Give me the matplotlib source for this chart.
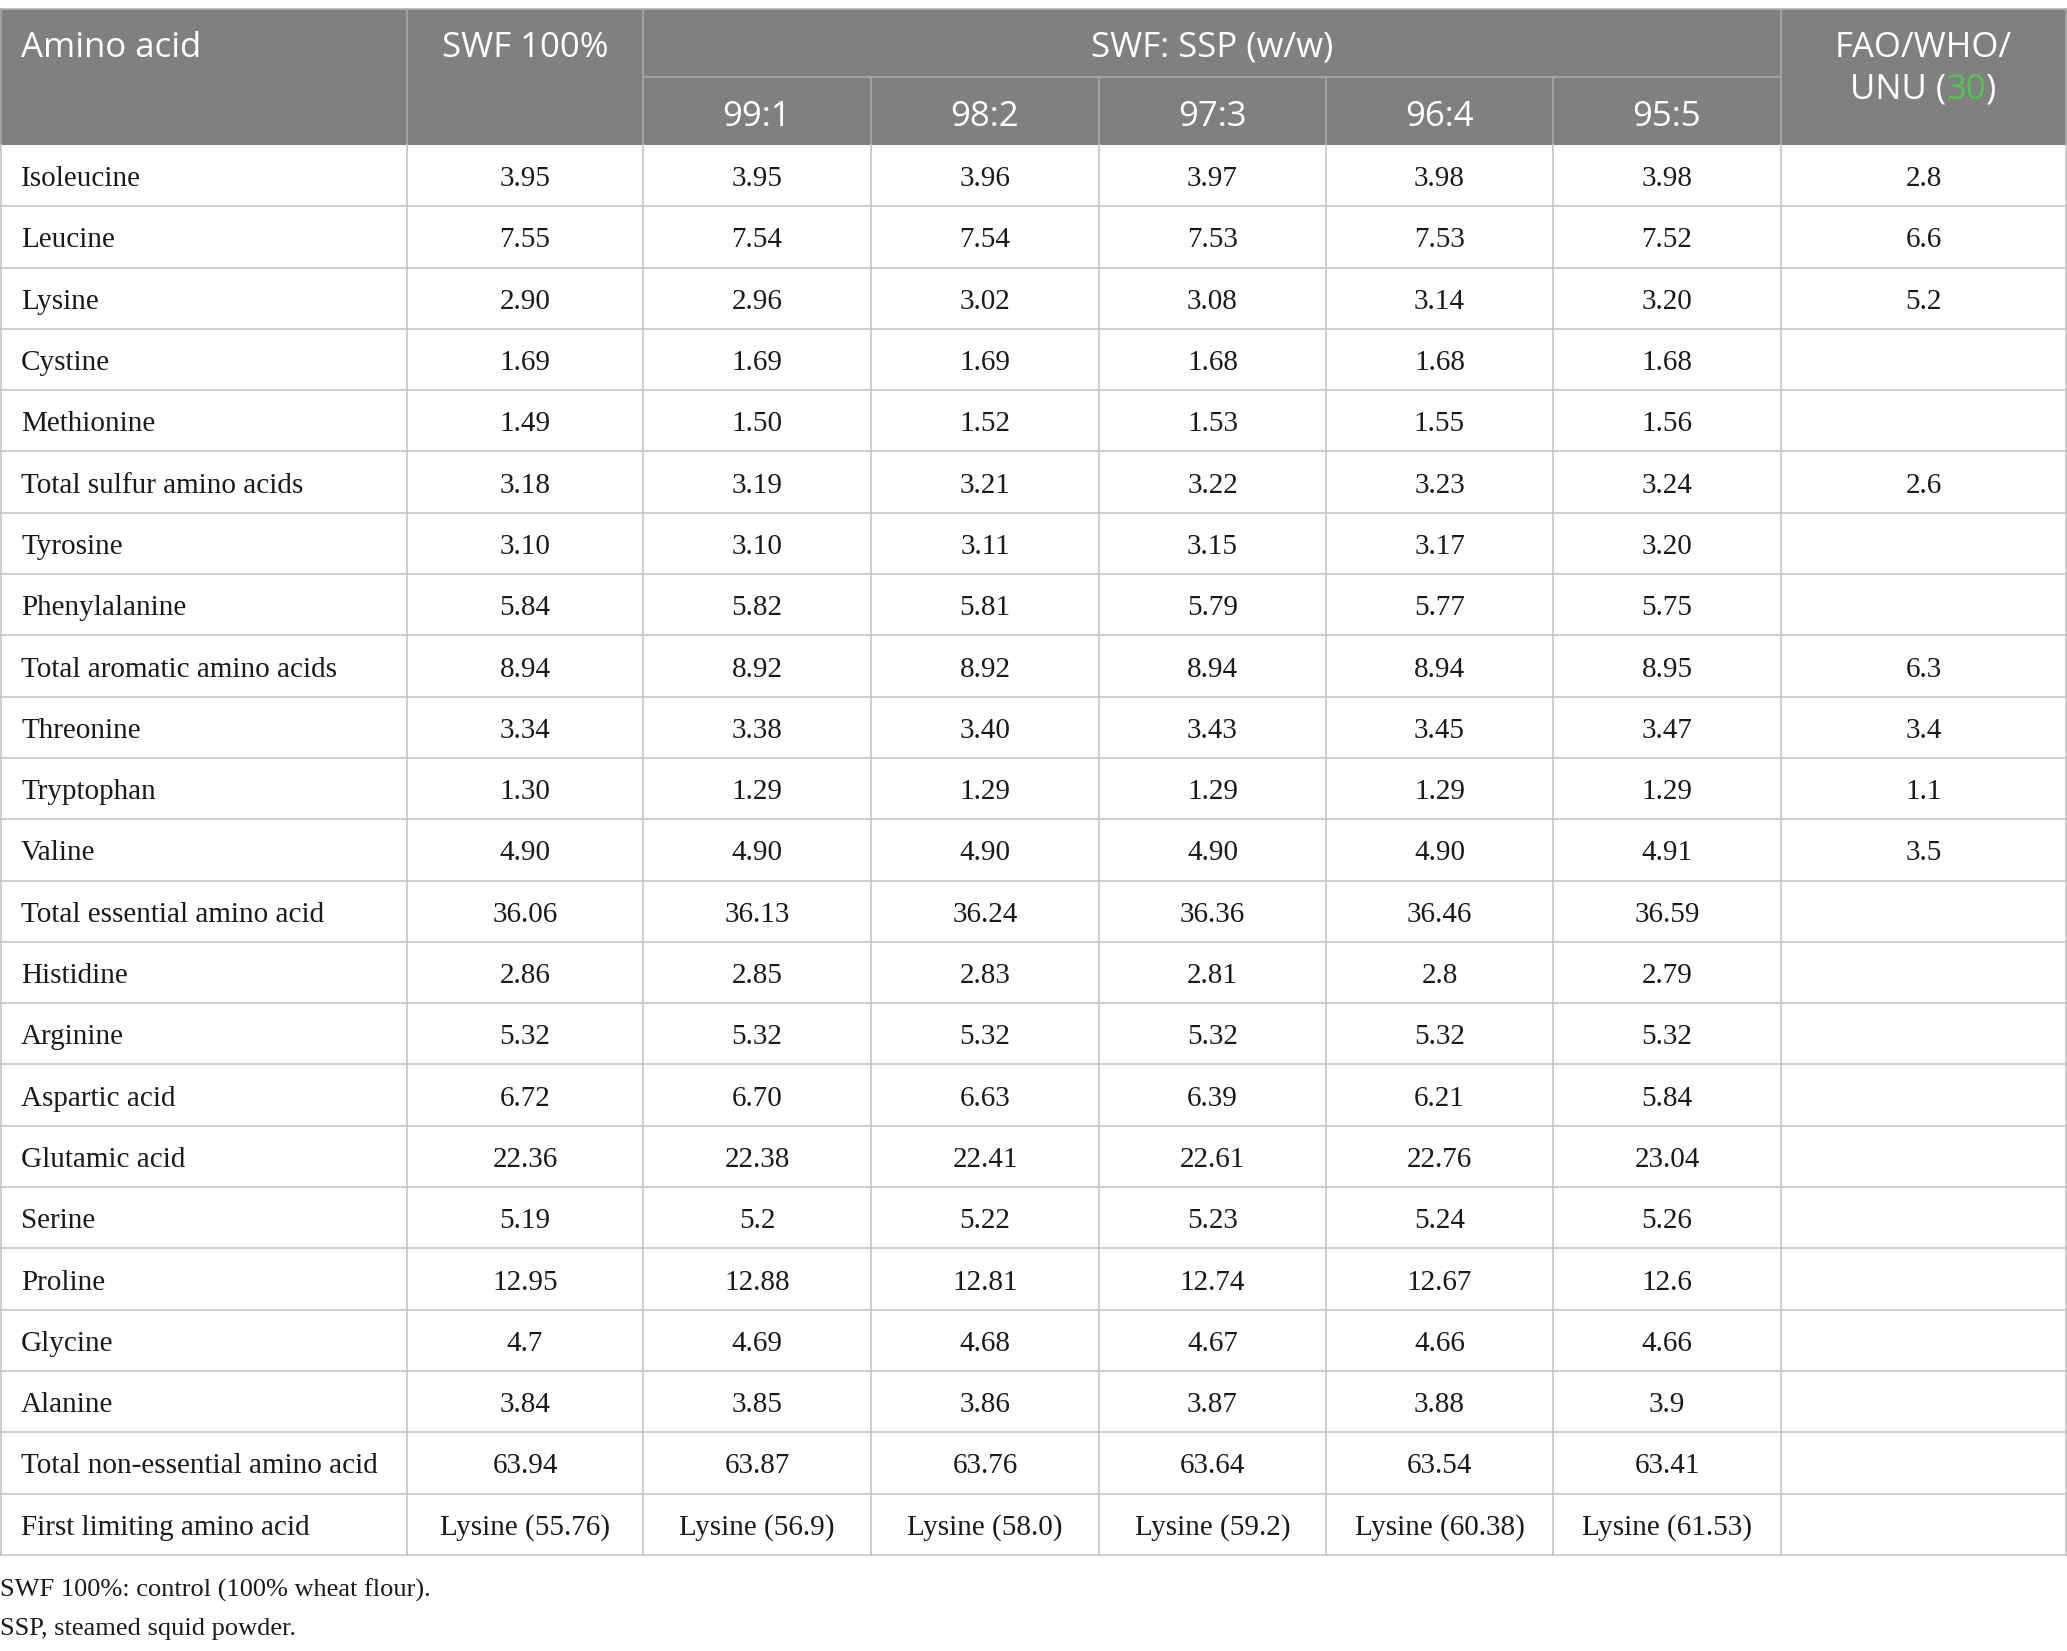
import matplotlib
matplotlib.use("Agg")
import matplotlib.pyplot as plt
from matplotlib.patches import Rectangle

# ---------------- data ----------------
amino_acids = [
    "Isoleucine", "Leucine", "Lysine", "Cystine", "Methionine",
    "Total sulfur amino acids", "Tyrosine", "Phenylalanine",
    "Total aromatic amino acids", "Threonine", "Tryptophan", "Valine",
    "Total essential amino acid", "Histidine", "Arginine", "Aspartic acid",
    "Glutamic acid", "Serine", "Proline", "Glycine", "Alanine",
    "Total non-essential amino acid", "First limiting amino acid",
]
swf_100 = ["3.95", "7.55", "2.90", "1.69", "1.49", "3.18", "3.10", "5.84", "8.94",
           "3.34", "1.30", "4.90", "36.06", "2.86", "5.32", "6.72", "22.36", "5.19",
           "12.95", "4.7", "3.84", "63.94", "Lysine (55.76)"]
ratio_99_1 = ["3.95", "7.54", "2.96", "1.69", "1.50", "3.19", "3.10", "5.82", "8.92",
              "3.38", "1.29", "4.90", "36.13", "2.85", "5.32", "6.70", "22.38", "5.2",
              "12.88", "4.69", "3.85", "63.87", "Lysine (56.9)"]
ratio_98_2 = ["3.96", "7.54", "3.02", "1.69", "1.52", "3.21", "3.11", "5.81", "8.92",
              "3.40", "1.29", "4.90", "36.24", "2.83", "5.32", "6.63", "22.41", "5.22",
              "12.81", "4.68", "3.86", "63.76", "Lysine (58.0)"]
ratio_97_3 = ["3.97", "7.53", "3.08", "1.68", "1.53", "3.22", "3.15", "5.79", "8.94",
              "3.43", "1.29", "4.90", "36.36", "2.81", "5.32", "6.39", "22.61", "5.23",
              "12.74", "4.67", "3.87", "63.64", "Lysine (59.2)"]
ratio_96_4 = ["3.98", "7.53", "3.14", "1.68", "1.55", "3.23", "3.17", "5.77", "8.94",
              "3.45", "1.29", "4.90", "36.46", "2.8", "5.32", "6.21", "22.76", "5.24",
              "12.67", "4.66", "3.88", "63.54", "Lysine (60.38)"]
ratio_95_5 = ["3.98", "7.52", "3.20", "1.68", "1.56", "3.24", "3.20", "5.75", "8.95",
              "3.47", "1.29", "4.91", "36.59", "2.79", "5.32", "5.84", "23.04", "5.26",
              "12.6", "4.66", "3.9", "63.41", "Lysine (61.53)"]
fao_who_unu = ["2.8", "6.6", "5.2", "", "", "2.6", "", "", "6.3", "3.4", "1.1", "3.5",
               "", "", "", "", "", "", "", "", "", "", ""]
ratio_labels = ["99:1", "98:2", "97:3", "96:4", "95:5"]
footnotes = ["SWF 100%: control (100% wheat flour).", "SSP, steamed squid powder."]

columns = [swf_100, ratio_99_1, ratio_98_2, ratio_97_3, ratio_96_4, ratio_95_5, fao_who_unu]

# ---------------- layout ----------------
W, H = 2067, 1651
fig = plt.figure(figsize=(W / 100, H / 100), dpi=100)
ax = fig.add_axes([0, 0, 1, 1])
ax.set_xlim(0, W)
ax.set_ylim(H, 0)
ax.axis("off")

col_x = [0.8, 407, 643, 871, 1099, 1326, 1553, 1781, 2066]
top, mid, hb = 9, 77, 145
rh = 61.3
n = len(amino_acids)
bottom = hb + n * rh

HEAD = "#808080"
HLINE = "#a8a8a8"
BLINE = "#c6c6c6"
GREEN = "#52c452"
lw = 1.2

header_font = dict(family=["Open Sans", "DejaVu Sans"], fontsize=25, color="white", weight="normal")
body_font = dict(family=["Liberation Serif", "DejaVu Serif"], fontsize=21, color="#1a1a1a")

# header background
ax.add_patch(Rectangle((0, top), W, hb - top, facecolor=HEAD, edgecolor="none", zorder=1))
ax.plot([0, W], [top, top], color="#b5b5b5", lw=lw, zorder=2)

# header dividers
for x in [407, 643, 1781]:
    ax.plot([x, x], [top, hb], color=HLINE, lw=lw, zorder=2)
for x in [871, 1099, 1326, 1553]:
    ax.plot([x, x], [mid, hb], color=HLINE, lw=lw, zorder=2)
ax.plot([643, 1781], [mid, mid], color=HLINE, lw=lw, zorder=2)
ax.plot([0.8, 0.8], [top, hb], color=HLINE, lw=lw, zorder=2)
ax.plot([2066, 2066], [top, hb], color=HLINE, lw=lw, zorder=2)

# body grid
for i in range(1, n + 1):
    y = hb + i * rh
    ax.plot([0, W], [y, y], color=BLINE, lw=lw, zorder=2)
for x in col_x:
    ax.plot([x, x], [hb, bottom], color=BLINE, lw=lw, zorder=2)

# header texts
ax.text(21, 57, "Amino acid", ha="left", va="baseline", **header_font, zorder=3)
ax.text((407 + 643) / 2, 57, "SWF 100%", ha="center", va="baseline", **header_font, zorder=3)
ax.text((643 + 1781) / 2, 56, "SWF: SSP (w/w)", ha="center", va="baseline", **header_font, zorder=3)
for j, lab in enumerate(ratio_labels):
    cx = (col_x[j + 2] + col_x[j + 3]) / 2
    ax.text(cx, 126, lab, ha="center", va="baseline", **header_font, zorder=3)
fao_cx = (1781 + 2066) / 2
ax.text(fao_cx, 57, "FAO/WHO/", ha="center", va="baseline", **header_font, zorder=3)

# multi-colour "UNU (30)"
renderer = fig.canvas.get_renderer()
pieces = [("UNU (", "white"), ("30", GREEN), (")", "white")]
probe = ax.text(0, 0, "UNU (30)", **{**header_font, "color": "none"})
total_w = probe.get_window_extent(renderer).width
probe.remove()
xcur = fao_cx - total_w / 2
for s, c in pieces:
    t = ax.text(xcur, 99, s, ha="left", va="baseline", **{**header_font, "color": c}, zorder=3)
    xcur += t.get_window_extent(renderer).width

# body texts
for i, name in enumerate(amino_acids):
    yb = hb + i * rh + rh / 2 + 10.5
    ax.text(21, yb, name, ha="left", va="baseline", **body_font, zorder=3)
    for j, col in enumerate(columns):
        if col[i]:
            cx = (col_x[j + 1] + col_x[j + 2]) / 2
            ax.text(cx, yb, col[i], ha="center", va="baseline", **body_font, zorder=3)

# footnotes
foot_font = dict(family=["Liberation Serif", "DejaVu Serif"], fontsize=19, color="#1a1a1a")
ax.text(0, 1597, footnotes[0], ha="left", va="baseline", **foot_font)
ax.text(0, 1635, footnotes[1], ha="left", va="baseline", **foot_font)

fig.savefig("out.png", dpi=100, facecolor="white")
